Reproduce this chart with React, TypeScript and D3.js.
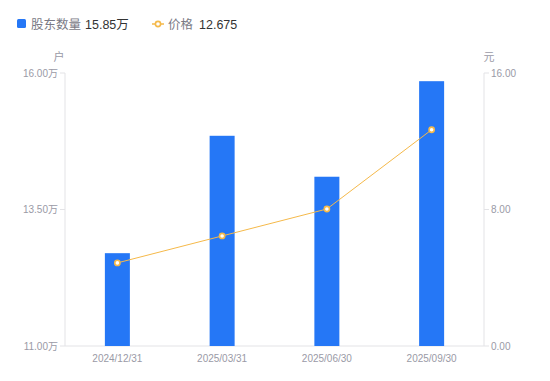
import React from "react";
import * as d3 from "d3";

const categories = ["2024/12/31", "2025/03/31", "2025/06/30", "2025/09/30"];
const holders = [12.7, 14.85, 14.1, 15.85]; // 万户
const prices = [4.87, 6.45, 8.03, 12.675];
const leftTicks = [11, 13.5, 16];
const rightTicks = [0, 8, 16];

export default function App() {
  const W = 550, H = 381;
  const left = 65, right = 484, top = 73, bottom = 346;
  const x = d3.scaleBand<string>().domain(categories).range([left, right]);
  const yL = d3.scaleLinear().domain([11, 16]).range([bottom, top]);
  const yR = d3.scaleLinear().domain([0, 16]).range([bottom, top]);
  const barW = 25;
  const line = d3.line<number>()
    .x((_, i) => x(categories[i])! + x.bandwidth() / 2)
    .y((d) => yR(d));
  const font = "'Liberation Sans', Arial, 'Noto Sans CJK SC', sans-serif";
  const gray = "#9a9aa6";
  const axisColor = "#e3e3e6";
  return (
    <svg width={W} height={H} style={{ position: "absolute", left: 0, top: 0 }} fontFamily={font}>
      {/* legend */}
      <rect x={17} y={19} width={9} height={9} rx={1.5} fill="#2577f6" />
      <text x={31} y={28.5} fontSize={12.5} fill="#7a7a85">股东数量</text>
      <text x={85} y={28.5} fontSize={12.5} fill="#333">15.85万</text>
      <line x1={152} x2={164} y1={24} y2={24} stroke="#f5b94a" strokeWidth={1.5} />
      <circle cx={158} cy={24} r={2.6} fill="#fff" stroke="#f5b94a" strokeWidth={1.6} />
      <text x={168} y={28.5} fontSize={12.5} fill="#7a7a85">价格</text>
      <text x={199} y={28.5} fontSize={12.5} fill="#333">12.675</text>

      {/* unit labels */}
      <text x={59} y={61} fontSize={11} fill={gray} textAnchor="middle">户</text>
      <text x={489} y={61} fontSize={11} fill={gray} textAnchor="middle">元</text>

      {/* axes */}
      <line x1={left} x2={left} y1={top} y2={bottom} stroke={axisColor} />
      <line x1={right} x2={right} y1={top} y2={bottom} stroke={axisColor} />
      <line x1={left} x2={right} y1={bottom} y2={bottom} stroke={axisColor} />
      {leftTicks.map((t) => (
        <g key={"l" + t}>
          <line x1={left - 5} x2={left} y1={yL(t)} y2={yL(t)} stroke={axisColor} />
          <text x={left - 7} y={yL(t) + 3.5} fontSize={10} fill={gray} textAnchor="end">
            {t.toFixed(2)}万
          </text>
        </g>
      ))}
      {rightTicks.map((t) => (
        <g key={"r" + t}>
          <line x1={right} x2={right + 5} y1={yR(t)} y2={yR(t)} stroke={axisColor} />
          <text x={right + 7} y={yR(t) + 3.5} fontSize={10} fill={gray} textAnchor="start">
            {t.toFixed(2)}
          </text>
        </g>
      ))}
      {categories.map((c) => (
        <text key={c} x={x(c)! + x.bandwidth() / 2} y={362} fontSize={10} fill={gray} textAnchor="middle">
          {c}
        </text>
      ))}

      {/* bars */}
      {holders.map((v, i) => (
        <rect
          key={i}
          x={x(categories[i])! + x.bandwidth() / 2 - barW / 2}
          y={yL(v)}
          width={barW}
          height={bottom - yL(v)}
          fill="#2577f6"
        />
      ))}

      {/* line */}
      <path d={line(prices) || ""} fill="none" stroke="#f5b94a" strokeWidth={1} />
      {prices.map((p, i) => (
        <circle
          key={i}
          cx={x(categories[i])! + x.bandwidth() / 2}
          cy={yR(p)}
          r={2.6}
          fill="#fff"
          stroke="#f5b94a"
          strokeWidth={1.6}
        />
      ))}
    </svg>
  );
}
